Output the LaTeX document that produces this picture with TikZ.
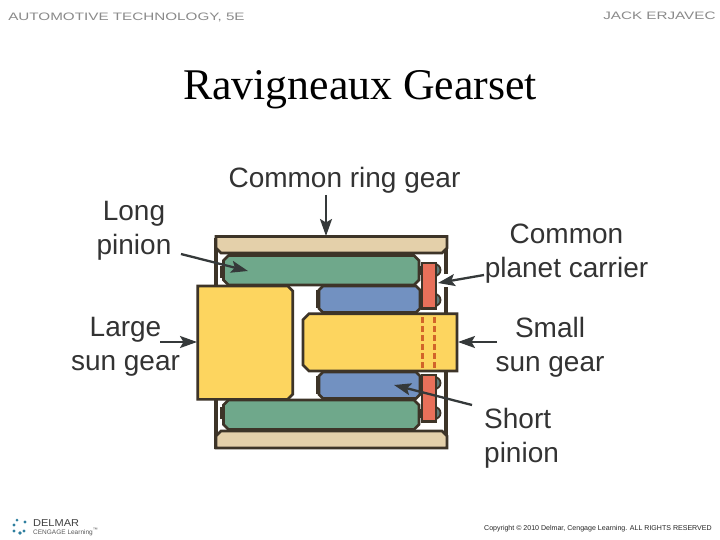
\documentclass[tikz,border=0pt]{standalone}
\usepackage{fontspec}
\setmainfont{Liberation Serif}
\setsansfont{Liberation Sans}
\usetikzlibrary{arrows.meta}
\definecolor{edge}{HTML}{3D3428}
\definecolor{ringc}{HTML}{E4D0AA}
\definecolor{greenc}{HTML}{6FA88B}
\definecolor{bluec}{HTML}{7291C1}
\definecolor{sunc}{HTML}{FDD55F}
\definecolor{redc}{HTML}{E8705A}
\definecolor{dashc}{HTML}{D2642A}
\definecolor{arrowc}{HTML}{35393A}
\definecolor{headc}{HTML}{8A8A8A}
\definecolor{logoc}{HTML}{2F7F9F}
\definecolor{boltc}{HTML}{5F7C7A}
\newcommand{\chamf}[9]{% style, x1,y1,x2,y2, chamfers nw,ne,se,sw
  \draw[gearpart,#1] ({#2+#6},#3) -- ({#4-#7},#3) -- (#4,{#3+#7}) -- (#4,{#5-#8}) -- ({#4-#8},#5)
    -- ({#2+#9},#5) -- (#2,{#5-#9}) -- (#2,{#3+#6}) -- cycle;}
\tikzset{
  x=1pt,y=-1pt,
  gearpart/.style={draw=edge,line width=2.6pt,line join=miter},
  stub/.style={fill=edge,inner sep=0pt,outer sep=0pt,anchor=north west,rectangle},
  bolt/.style={draw=edge,fill=boltc,line width=1.8pt},
  callout/.style={font=\sffamily\fontsize{28}{34}\selectfont,text=black!80,align=center,inner sep=0pt},
  pointer/.style={draw=arrowc,line width=2.3pt,-{Stealth[length=17pt,width=12pt,inset=3.5pt]}},
  framerule/.style={draw=edge,line width=3.4pt},
  bore/.style={draw=dashc,line width=2.5pt,dash pattern=on 6pt off 3pt},
  header/.style={font=\sffamily\fontsize{10.8}{12}\selectfont,text=headc,inner sep=0pt,anchor=west}
}
\begin{document}
\begin{tikzpicture}
\useasboundingbox (0,0) rectangle (720,540);
\fill[white] (0,0) rectangle (720,540);
% header
\node[header,xscale=1.41] (hleft) at (8,17) {AUTOMOTIVE TECHNOLOGY, 5E};
\node[header,xscale=1.41] (hright) at (603,16) {JACK ERJAVEC};
\node[font=\fontsize{43.8}{48}\selectfont,inner sep=0pt] (title) at (360,90) {Ravigneaux Gearset};
% frame
\coordinate (fa) at (215.8,238); \coordinate (fb) at (215.8,447);
\coordinate (fc) at (446,447); \coordinate (fd) at (446,372);
\coordinate (fe) at (446,313); \coordinate (ff) at (446,287);
\coordinate (fg) at (446,274); \coordinate (fh) at (446,238);
\draw[framerule] (fa) -- (fb) -- (fc) -- (fd);
\draw[framerule] (fe) -- (ff);
\draw[framerule] (fg) -- (fh);
% rings
\chamf{fill=ringc}{216}{236.5}{447}{253}{0}{0}{5}{5}
\chamf{fill=ringc}{216}{431}{447}{448}{5}{5}{0}{0}
% stubs
\node[stub,minimum width=5pt,minimum height=12pt] (sg1) at (220,266) {};
\node[stub,minimum width=5pt,minimum height=12pt] (sg2) at (220,407) {};
\node[stub,minimum width=5pt,minimum height=18pt] (sb1) at (316,290) {};
\node[stub,minimum width=5pt,minimum height=18pt] (sb2) at (316,376) {};
\node[stub,minimum width=5pt,minimum height=9pt] (sr1) at (419,266) {};
\node[stub,minimum width=5pt,minimum height=9pt] (sr2) at (419,295) {};
\node[stub,minimum width=5pt,minimum height=9pt] (sr3) at (419,379) {};
\node[stub,minimum width=5pt,minimum height=9pt] (sr4) at (419,409) {};
% bolts
\draw[bolt] (434.5,270) circle[radius=6];
\draw[bolt] (434.5,300) circle[radius=6];
\draw[bolt] (434.5,383) circle[radius=6];
\draw[bolt] (434.5,413) circle[radius=6];
% carrier
\chamf{fill=redc}{422}{263}{436}{308.5}{0}{0}{0}{0}
\chamf{fill=redc}{422}{375}{436}{421.5}{0}{0}{0}{0}
% pinions
\chamf{fill=greenc}{223.5}{255.5}{419}{285}{5}{5}{5}{5}
\chamf{fill=greenc}{223.5}{400}{419}{429.5}{5}{5}{5}{5}
\chamf{fill=bluec}{319}{286}{420}{312.5}{4}{4}{4}{4}
\chamf{fill=bluec}{319}{372}{420}{398.5}{4}{4}{4}{4}
% suns
\chamf{fill=sunc}{197.7}{286}{292.7}{399.3}{0}{5}{5}{0}
\chamf{fill=sunc}{303}{313.7}{457}{371}{6}{0}{0}{6}
\coordinate (da1) at (422.7,317); \coordinate (da2) at (422.7,369);
\coordinate (db1) at (434.7,317); \coordinate (db2) at (434.7,369);
\draw[bore] (da1) -- (da2);
\draw[bore] (db1) -- (db2);
% labels
\node[callout] (lring) at (344.5,180) {Common ring gear};
\node[callout] (llong) at (134,230.5) {Long\\pinion};
\node[callout] (lcarrier) at (566.5,253.5) {Common\\planet carrier};
\node[callout] (llarge) at (125.5,346.5) {Large\\sun gear};
\node[callout] (lsmall) at (550,347) {Small\\sun gear};
\node[callout,align=left,anchor=west] (lshort) at (484,438) {Short\\pinion};
% arrows
\coordinate (a1s) at (326,195); \coordinate (a1e) at (326,236);
\coordinate (a2s) at (181,254); \coordinate (a2e) at (248,271);
\coordinate (a3s) at (484,275); \coordinate (a3e) at (438,283);
\coordinate (a4s) at (160,342); \coordinate (a4e) at (197,342);
\coordinate (a5s) at (497,342); \coordinate (a5e) at (458,342);
\coordinate (a6s) at (472,405); \coordinate (a6e) at (394,385);
\draw[pointer] (a1s) -- (a1e);
\draw[pointer] (a2s) -- (a2e);
\draw[pointer] (a3s) -- (a3e);
\draw[pointer] (a4s) -- (a4e);
\draw[pointer] (a5s) -- (a5e);
\draw[pointer] (a6s) -- (a6e);
% footer
\foreach \lx/\ly/\lr in {14/525/1.6,17/520/1.5,14/531/1.7,20/533/1.9,24/531/1.6,25/522/1.6}
  \fill[logoc] (\lx,\ly) circle[radius=\lr];
\node[inner sep=0pt,anchor=west,font=\sffamily\fontsize{10}{11}\selectfont,text=black!75,xscale=1.1] (logoa) at (33,523) {DELMAR};
\node[inner sep=0pt,anchor=west,font=\sffamily\fontsize{6.5}{8}\selectfont,text=black!65] (logob) at (33,532) {CENGAGE Learning\textsuperscript{\tiny ™}};
\node[inner sep=0pt,anchor=west,font=\sffamily\fontsize{7.05}{9}\selectfont,text=black!85] (copy) at (484,528.5) {Copyright © 2010 Delmar, Cengage Learning. ALL RIGHTS RESERVED};
\end{tikzpicture}
\end{document}
